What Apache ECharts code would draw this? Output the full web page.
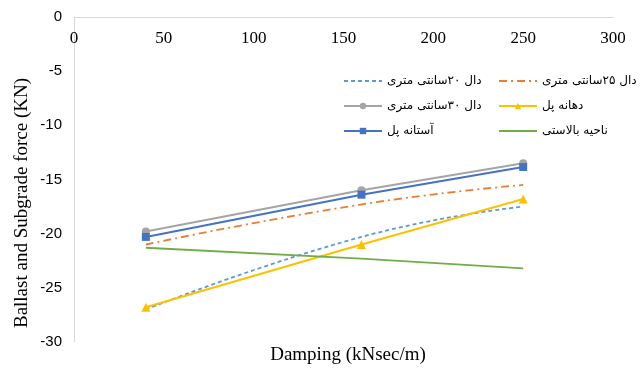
<!DOCTYPE html>
<html><head><meta charset="utf-8">
<script src="https://cdn.jsdelivr.net/npm/echarts@6/dist/echarts.min.js"></script>
<style>html,body{margin:0;padding:0;background:#fff}#c{width:641px;height:370px}</style>
</head><body><div id="c"></div>
<script>
var damping = [40, 160, 250];
var slab20 = [-27.0, -20.3, -17.5];
var slab25 = [-21.0, -17.3, -15.5];
var slab30 = [-19.8, -16.0, -13.5];
var bridgeSpan = [-26.8, -21.0, -16.8];
var abutment = [-20.3, -16.4, -13.85];
var ballastZone = [-21.3, -22.3, -23.2];
var names = ['دال ۲۰سانتی متری','دال ۲۵سانتی متری','دال ۳۰سانتی متری','دهانه پل','آستانه پل','ناحیه بالاستی'];
var xTitle = 'Damping (kNsec/m)';
var yTitle = 'Ballast and Subgrade force (KN)';

function pts(arr){ return damping.map(function(d,i){return [d, arr[i]];}); }
var serif = 'Liberation Serif, DejaVu Serif, serif';
var legFont = {fontFamily:'DejaVu Sans, Noto Sans, sans-serif', fontSize:12, color:'#000'};
var noMark = {opacity:0};
var chart = echarts.init(document.getElementById('c'));
chart.setOption({
  animation:false,
  grid:{left:74, right:28, top:17, bottom:28},
  xAxis:{type:'value', position:'top', min:0, max:300, interval:50,
    axisLine:{onZero:false, lineStyle:{color:'#D9D9D9'}}, axisTick:{show:false}, splitLine:{show:false},
    axisLabel:{inside:true, margin:13, color:'#000', fontFamily:serif, fontSize:17}},
  yAxis:{type:'value', min:-30, max:0, interval:5,
    axisLine:{show:true, lineStyle:{color:'#D9D9D9'}}, axisTick:{show:false}, splitLine:{show:false},
    axisLabel:{margin:12, color:'#000', fontFamily:'Liberation Sans, Arial, sans-serif', fontSize:15}},
  legend:[
    {orient:'vertical', left:338, top:70, itemWidth:38, itemHeight:8, itemGap:13, textStyle:legFont,
     data:[{name:names[0], itemStyle:noMark}, names[2], names[4]]},
    {orient:'vertical', left:493, top:70, itemWidth:38, itemHeight:8, itemGap:13, textStyle:legFont,
     data:[{name:names[1], itemStyle:noMark}, names[3], {name:names[5], itemStyle:noMark}]}
  ],
  graphic:[
    {type:'text', x:22, y:203, rotation:Math.PI/2, style:{text:yTitle, x:0, y:0, align:'center', verticalAlign:'middle', font:'19px "Liberation Serif"', fill:'#000'}},
    {type:'text', x:348, y:355, style:{text:xTitle, align:'center', verticalAlign:'middle', font:'19px "Liberation Serif"', fill:'#000'}}
  ],
  series:[
    {name:names[0], type:'line', data:pts(slab20), smooth:true, symbol:'none',
     lineStyle:{color:'#5B9BD5', width:1.8, type:[4,3]}, itemStyle:{color:'#5B9BD5'}},
    {name:names[1], type:'line', data:pts(slab25), smooth:true, symbol:'none',
     lineStyle:{color:'#ED7D31', width:1.8, type:[8,4,2,4]}, itemStyle:{color:'#ED7D31'}},
    {name:names[2], type:'line', data:pts(slab30), symbol:'circle', symbolSize:8,
     lineStyle:{color:'#A5A5A5', width:2}, itemStyle:{color:'#A5A5A5'}},
    {name:names[3], type:'line', data:pts(bridgeSpan), symbol:'triangle', symbolSize:9,
     lineStyle:{color:'#FFC000', width:2}, itemStyle:{color:'#FFC000'}},
    {name:names[4], type:'line', data:pts(abutment), symbol:'rect', symbolSize:8,
     lineStyle:{color:'#4472C4', width:2}, itemStyle:{color:'#4472C4'}},
    {name:names[5], type:'line', data:pts(ballastZone), symbol:'none',
     lineStyle:{color:'#70AD47', width:1.8}, itemStyle:{color:'#70AD47'}}
  ]
});
</script></body></html>
